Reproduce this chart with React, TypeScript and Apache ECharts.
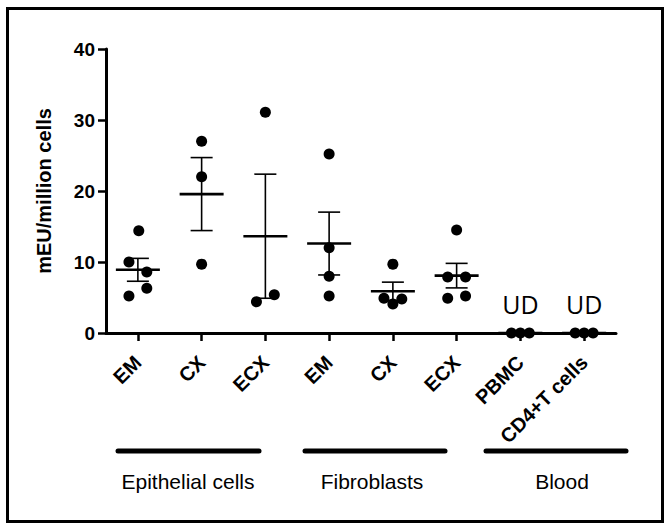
import React, { useEffect, useRef } from "react";
import * as echarts from "echarts";

// ---- data ----
const categories = ["EM", "CX", "ECX", "EM", "CX", "ECX", "PBMC", "CD4+T cells"];
const epithelialEM = [14.4, 10.0, 8.6, 6.3, 5.2];
const epithelialCX = [27.0, 22.0, 9.7];
const epithelialECX = [31.1, 4.4, 5.4];
const fibroblastEM = [25.2, 12.0, 8.0, 5.2];
const fibroblastCX = [9.7, 4.9, 4.1, 4.8];
const fibroblastECX = [14.5, 7.9, 7.9, 4.9, 5.2];
const bloodPBMC = [0, 0, 0];
const bloodCD4 = [0, 0, 0];
const groupLabels = ["Epithelial cells", "Fibroblasts", "Blood"];
const udCategories = [6, 7];
const udText = "UD";
const yTicks = [0, 10, 20, 30, 40];

const columns = [
  epithelialEM,
  epithelialCX,
  epithelialECX,
  fibroblastEM,
  fibroblastCX,
  fibroblastECX,
  bloodPBMC,
  bloodCD4,
];

// layout: horizontal scatter spread of each dot (-1 left, 0 centre, 1 right)
const spread = [
  [0.1, -1, 1, 1, -1],
  [0, 0, 0],
  [0, -1, 1],
  [0, 0, 0, 0],
  [0, -1, 0, 1],
  [0, -1, 1, -1, 1],
  [-1, 0, 1],
  [-1, 0, 1],
];
const SPREAD_STEP = 0.14;

function meanSem(v: number[]) {
  const n = v.length;
  const m = v.reduce((a, b) => a + b, 0) / n;
  const sd = Math.sqrt(v.reduce((a, b) => a + (b - m) * (b - m), 0) / (n - 1));
  const sem = sd / Math.sqrt(n);
  return [m, m - sem, m + sem];
}

const FONT = '"Liberation Sans", Arial, sans-serif';

export default function App() {
  const ref = useRef<HTMLDivElement>(null);
  useEffect(() => {
    if (!ref.current) return;
    const chart = echarts.init(ref.current, null, { renderer: "svg" });

    const dots: number[][] = [];
    columns.forEach((col, i) => {
      col.forEach((v, j) => {
        dots.push([i + (spread[i][j] || 0) * SPREAD_STEP, v]);
      });
    });
    const stats = columns.map((col, i) => [i, ...meanSem(col)]);

    chart.setOption({
      animation: false,
      backgroundColor: "#fff",
      grid: { left: 106, right: 56, top: 49, bottom: 198, containLabel: false },
      xAxis: [
        {
          type: "category",
          data: categories,
          boundaryGap: true,
          axisLine: { show: true, onZero: false, lineStyle: { color: "#000", width: 3 } },
          axisTick: {
            show: true,
            alignWithLabel: true,
            length: 8,
            lineStyle: { color: "#000", width: 2.5 },
          },
          axisLabel: {
            rotate: 45,
            margin: 26,
            color: "#000",
            fontFamily: FONT,
            fontWeight: "bold",
            fontSize: 20,
            interval: 0,
          },
          splitLine: { show: false },
        },
        {
          type: "value",
          min: -0.5,
          max: 7.5,
          show: false,
        },
      ],
      yAxis: {
        type: "value",
        min: yTicks[0],
        max: yTicks[yTicks.length - 1],
        interval: 10,
        name: "mEU/million cells",
        nameLocation: "middle",
        nameRotate: 90,
        nameGap: 52,
        nameTextStyle: { color: "#000", fontFamily: FONT, fontWeight: "bold", fontSize: 20 },
        axisLine: { show: true, onZero: false, lineStyle: { color: "#000", width: 3 } },
        axisTick: { show: true, length: 8, lineStyle: { color: "#000", width: 2.5 } },
        axisLabel: { color: "#000", fontFamily: FONT, fontWeight: "bold", fontSize: 19, margin: 11 },
        splitLine: { show: false },
      },
      series: [
        {
          type: "custom",
          xAxisIndex: 0,
          yAxisIndex: 0,
          z: 2,
          encode: { x: 0, y: [1, 2, 3] },
          data: stats,
          renderItem: (params: any, api: any) => {
            const x = api.value(0);
            const pm = api.coord([x, api.value(1)]);
            const pl = api.coord([x, api.value(2)]);
            const ph = api.coord([x, api.value(3)]);
            const st = { stroke: "#000", lineWidth: 1.6 };
            return {
              type: "group",
              children: [
                { type: "line", shape: { x1: pm[0] - 22, y1: pm[1], x2: pm[0] + 22, y2: pm[1] }, style: { stroke: "#000", lineWidth: 2.6 } },
                { type: "line", shape: { x1: ph[0], y1: ph[1], x2: pl[0], y2: pl[1] }, style: st },
                { type: "line", shape: { x1: ph[0] - 11, y1: ph[1], x2: ph[0] + 11, y2: ph[1] }, style: st },
                { type: "line", shape: { x1: pl[0] - 11, y1: pl[1], x2: pl[0] + 11, y2: pl[1] }, style: st },
              ],
            };
          },
        },
        {
          type: "scatter",
          xAxisIndex: 1,
          yAxisIndex: 0,
          z: 3,
          clip: false,
          symbol: "circle",
          symbolSize: 11,
          itemStyle: { color: "#000", opacity: 1 },
          emphasis: { disabled: true },
          data: dots,
        },
        {
          type: "scatter",
          xAxisIndex: 1,
          yAxisIndex: 0,
          z: 4,
          clip: false,
          symbolSize: 1,
          itemStyle: { color: "rgba(0,0,0,0)" },
          emphasis: { disabled: true },
          label: {
            show: true,
            position: "top",
            distance: 16,
            formatter: udText,
            color: "#000",
            opacity: 1,
            fontFamily: '"Open Sans", "Noto Sans", sans-serif',
            fontSize: 25,
          },
          data: udCategories.map((c) => [c, 0]),
        },
      ],
      graphic: [
        {
          type: "rect",
          shape: { x: 7.5, y: 8.5, width: 655, height: 513 },
          style: { fill: "none", stroke: "#000", lineWidth: 3 },
          silent: true,
        },
        { type: "line", shape: { x1: 118, y1: 451, x2: 259, y2: 451 }, style: { stroke: "#000", lineWidth: 5, lineCap: "round" } },
        { type: "line", shape: { x1: 305, y1: 451, x2: 445, y2: 451 }, style: { stroke: "#000", lineWidth: 5, lineCap: "round" } },
        { type: "line", shape: { x1: 486, y1: 451, x2: 626, y2: 451 }, style: { stroke: "#000", lineWidth: 5, lineCap: "round" } },
        ...groupLabels.map((t, i) => ({
          type: "text",
          x: [188, 372, 562][i],
          y: 481,
          style: {
            text: t,
            fill: "#000",
            fontFamily: FONT,
            fontSize: 21,
            align: "center",
            verticalAlign: "middle",
          },
        })),
      ],
    });
    return () => chart.dispose();
  }, []);
  return (
    <div
      ref={ref}
      style={{ position: "fixed", left: 0, top: 0, width: 672, height: 531, background: "#fff" }}
    />
  );
}
